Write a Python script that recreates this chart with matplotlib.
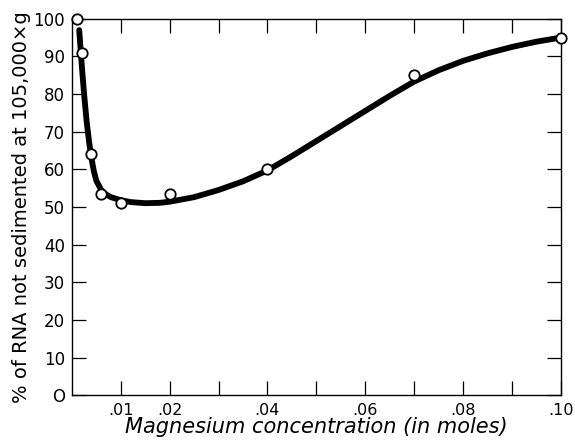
import matplotlib.pyplot as plt
import numpy as np

# measured points (Mg concentration in moles, % RNA not sedimented)
mg_conc = [0.001, 0.002, 0.004, 0.006, 0.010, 0.020, 0.040, 0.070, 0.100]
pct_rna = [100, 91, 64, 53.5, 51, 53.5, 60, 85, 95]

# hand-drawn smooth curve
curve_x = [0.0015, 0.002, 0.0025, 0.003, 0.0035, 0.004, 0.0045, 0.005, 0.006, 0.007,
           0.008, 0.010, 0.012, 0.015, 0.018, 0.020, 0.025, 0.030, 0.035, 0.040,
           0.045, 0.050, 0.055, 0.060, 0.065, 0.070, 0.075, 0.080, 0.085, 0.090,
           0.095, 0.100]
curve_y = [97, 88, 80, 73, 67.5, 63, 59.5, 57, 54.5, 53.3,
           52.6, 51.8, 51.3, 51.0, 51.1, 51.4, 52.6, 54.5, 56.8, 59.7,
           63.5, 67.5, 71.5, 75.5, 79.5, 83.3, 86.3, 88.8, 90.8, 92.5,
           93.9, 95]

xticks = [0.01, 0.02, 0.04, 0.06, 0.08, 0.10]
xticklabels = ['.01', '.02', '.04', '.06', '.08', '.10']
yticks = list(range(0, 101, 10))

fig = plt.figure(figsize=(5.75, 4.47), dpi=100)
ax = fig.add_axes([0.125, 0.116, 0.85, 0.842])

ax.plot(curve_x, curve_y, color='black', lw=4.2, solid_capstyle='round', zorder=2)
ax.plot(mg_conc, pct_rna, 'o', ms=7.5, mfc='white', mec='black', mew=1.3,
        clip_on=False, zorder=3)

ax.set_xlim(0, 0.10)
ax.set_ylim(0, 100)
ax.set_xticks(xticks)
ax.set_xticklabels(xticklabels)
ax.set_xticks(np.arange(0.01, 0.10, 0.01), minor=True)
ax.set_yticks(yticks)
ax.set_yticklabels(['O', '10', '20', '30', '40', '50', '60', '70', '80', '90', '100'])

ax.tick_params(which='both', direction='in', top=True, right=True, length=10,
               width=0.9, labelsize=12, pad=5)
ax.tick_params(axis='x', which='major', labelsize=11.5, pad=6)
for s in ax.spines.values():
    s.set_linewidth(1.0)

ax.set_xlabel('Magnesium concentration (in moles)', fontsize=15, style='italic', labelpad=-1)
ax.set_ylabel('% of RNA not sedimented at 105,000×g', fontsize=14, labelpad=2)

plt.savefig('out.png', dpi=100)
